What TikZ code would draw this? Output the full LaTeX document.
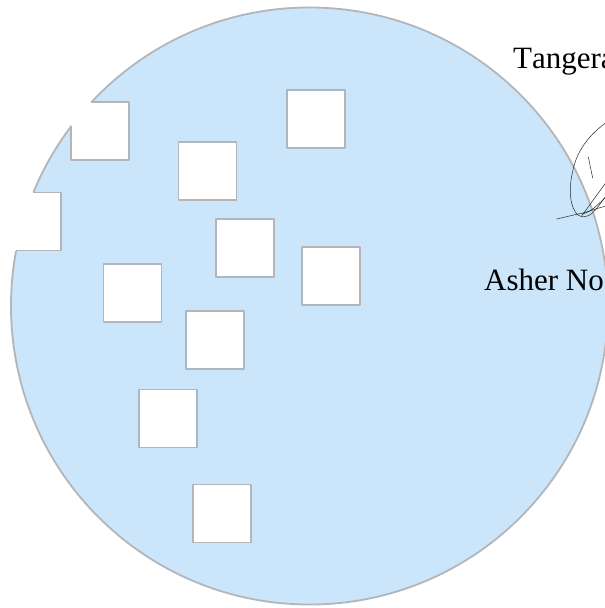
\documentclass[tikz,border=0pt]{standalone}
\usepackage{fontspec}
\setmainfont[Kerning=Off]{Liberation Serif}
\definecolor{disc}{HTML}{CBE6FA}
\definecolor{edge}{HTML}{B2B6BA}
\tikzset{
  hole/.style={fill=white,draw=edge,line width=1.8pt,line join=round},
  label/.style={anchor=base west,inner sep=0pt,font=\fontsize{31}{31}\selectfont,text=black},
  ink/.style={draw=black!85,line width=0.5pt,line cap=round}
}
\newcommand{\sq}[2]{\path[hole] (#1,#2) rectangle ++(58,58);}
\begin{document}
\begin{tikzpicture}[x=1pt,y=-1pt]
\useasboundingbox (0,0) rectangle (605,608);
\clip (0,0) rectangle (605,608);
\path[fill=white] (0,0) rectangle (605,608);
\path[fill=disc,draw=edge,line width=1.8pt] (309.5,306) circle[radius=298.5];
% notches at the rim
\path[fill=white] (71,102) rectangle (129,160);
\path[fill=white] (2.7,192) rectangle (60.7,251);
\begin{scope}
  \clip (309.5,306) circle[radius=298.5];
  \path[fill=white] (71,102) rectangle (129,160);
  \path[draw=edge,line width=1.8pt,line join=round] (71,102) rectangle (129,160);
  \path[draw=edge,line width=1.8pt,line join=round] (2.7,192.5) rectangle (60.7,250.5);
\end{scope}
% windows
\sq{287}{90}
\sq{178.5}{142}
\sq{216}{219}
\sq{302}{247}
\sq{103.5}{264}
\sq{186}{311}
\sq{139}{389.5}
\sq{193.3}{484.5}
% labels
\node[label] (top) at (513,68) {Tangera};
\node[label] (low) at (484,290) {Asher No};
% signature
\path[ink] (607,122) .. controls (590,134) and (577,150) .. (573,170)
  .. controls (568,190) and (570,208) .. (578,215)
  .. controls (586,220) and (592,214) .. (597,208)
  .. controls (600,204) and (603,200) .. (607,195);
\path[ink] (556.7,219) -- (578,214) .. controls (586,213) and (596,208) .. (607,206);
\path[ink] (581.7,216) -- (607,181);
\path[ink] (588.3,157) -- (592.7,178);
\path[ink] (582,214) .. controls (592,212) and (598,204) .. (607,196);
\end{tikzpicture}
\end{document}
